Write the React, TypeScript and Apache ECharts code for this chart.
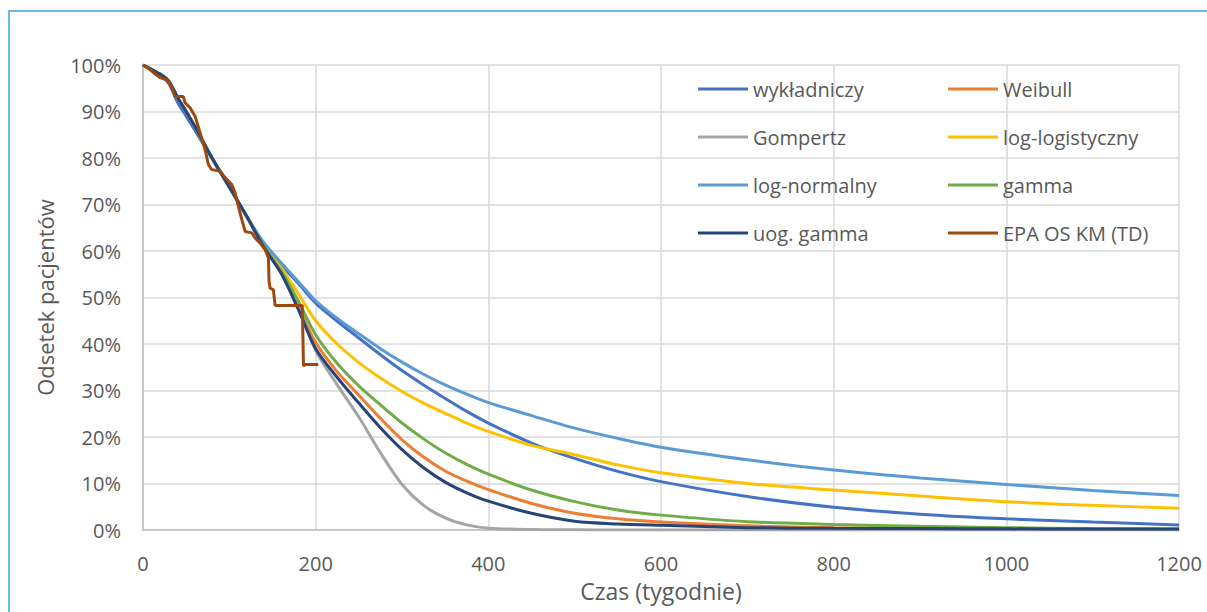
import React, { useEffect, useRef } from "react";
import * as echarts from "echarts";

// time grid (weeks) for the fitted curves
const weeks = [0, 10, 20, 30, 40, 50, 60, 80, 100, 120, 140, 160, 180, 200, 225, 250, 275, 300, 325, 350, 375, 400, 450, 500, 550, 600, 700, 800, 900, 1000, 1100, 1200];

const wykladniczy = [100, 99, 97.8, 96, 92, 89, 86, 79.8, 73.6, 67.4, 61.2, 57, 53, 48.8, 44.9, 41.3, 37.7, 34.3, 31.2, 28.3, 25.5, 23, 18.7, 15.4, 12.6, 10.4, 7.2, 4.9, 3.4, 2.4, 1.7, 1.1];
const weibull = [100, 99, 98, 96.5, 93, 90, 86.8, 80, 73.8, 67.5, 61, 55.5, 48.1, 40.3, 34, 29, 24, 19.4, 15.7, 12.7, 10.5, 8.7, 5.7, 3.6, 2.4, 1.7, 0.9, 0.5, 0.3, 0.2, 0.1, 0.1];
const gompertz = [100, 99, 98, 96.5, 93, 90, 86.8, 80, 73.8, 67.5, 61, 55.4, 47.8, 38.6, 31.2, 24.3, 16.6, 9.8, 5.3, 2.6, 1.1, 0.4, 0.1, 0.05, 0, 0, 0, 0, 0, 0, 0, 0];
const logLogistyczny = [100, 99, 98, 96.5, 93, 90, 86.8, 80, 73.8, 67.5, 61, 56.4, 50.8, 45, 40, 36, 32.7, 29.8, 27.3, 25.1, 23, 21.2, 18.2, 16.2, 14, 12.3, 10, 8.6, 7.3, 6.1, 5.3, 4.7];
const logNormalny = [100, 99, 98, 96.5, 93, 90, 86.8, 80, 73.8, 67.5, 61.8, 57.5, 53.4, 49.3, 45.5, 42.2, 39, 36.1, 33.5, 31.2, 29.2, 27.4, 24.6, 21.9, 19.7, 17.8, 15.1, 12.9, 11.2, 9.8, 8.5, 7.4];
const gamma = [100, 99, 98, 96.5, 93, 90, 86.8, 80, 73.8, 67.5, 61, 55.8, 49.2, 42, 35.8, 31, 26.9, 23, 19.6, 16.6, 14.1, 12, 8.6, 6.1, 4.3, 3.2, 1.8, 1.2, 0.8, 0.5, 0.3, 0.2];
const uogGamma = [100, 99, 98, 96.5, 93, 90, 86.8, 80, 73.8, 67.5, 60.8, 55.2, 47.4, 39, 32.8, 27.3, 22, 17.3, 13.4, 10.3, 8, 6.2, 3.6, 1.9, 1.3, 1.0, 0.5, 0.35, 0.3, 0.25, 0.2, 0.2];

// Kaplan-Meier (EPA OS KM (TD))
const kmWeeks = [0, 5, 12, 19.7, 27.5, 31.3, 35, 37, 46.7, 48.7, 54.5, 60.3, 66, 71.9, 75.7, 79.6, 89.3, 95, 102.8, 106.7, 110.5, 114.4, 118.3, 126, 129.9, 135.7, 141.4, 145.3, 146, 147.2, 151, 153, 184.5, 185.9, 188, 203];
const kmSurv = [100, 99.5, 98.4, 97.3, 96.8, 95.8, 94.4, 93.2, 93.2, 91.9, 90.8, 89, 85.5, 81.8, 78.6, 77.5, 77.2, 75.8, 74.3, 72.5, 69.6, 66.8, 64.2, 63.9, 62.8, 61.7, 60.3, 58.5, 53.5, 52, 51.7, 48.3, 48.3, 35.3, 35.6, 35.6];

const xTicks = [0, 200, 400, 600, 800, 1000, 1200];

const seriesNames = ["wykładniczy", "Weibull", "Gompertz", "log-logistyczny", "log-normalny", "gamma", "uog. gamma", "EPA OS KM (TD)"];
const seriesColors = ["#4472C4", "#ED7D31", "#A5A5A5", "#FFC000", "#5B9BD5", "#70AD47", "#264478", "#9E480E"];
const modelValues = [wykladniczy, weibull, gompertz, logLogistyczny, logNormalny, gamma, uogGamma];

const FONT = "'Open Sans', sans-serif";
const TXT = "#595959";

export default function App() {
  const ref = useRef<HTMLDivElement>(null);
  useEffect(() => {
    if (!ref.current) return;
    const chart = echarts.init(ref.current, null, { renderer: "svg" });
    const series: any[] = modelValues.map((vals, i) => ({
      name: seriesNames[i],
      type: "line",
      data: weeks.map((w, j) => [w, vals[j]]),
      showSymbol: false,
      smooth: 0.3,
      color: seriesColors[i],
      lineStyle: { width: 3, color: seriesColors[i] },
      z: 2 + i,
    }));
    series.push({
      name: seriesNames[7],
      type: "line",
      data: kmWeeks.map((w, j) => [w, kmSurv[j]]),
      showSymbol: false,
      color: seriesColors[7],
      lineStyle: { width: 3, color: seriesColors[7] },
      z: 20,
    });
    const legendCommon = {
      orient: "vertical",
      icon: "rect",
      itemWidth: 50,
      itemHeight: 3,
      itemGap: 24,
      textStyle: { fontFamily: FONT, fontSize: 20, color: TXT, lineHeight: 24, padding: [0, 0, 0, 0] },
    };
    chart.setOption({
      animation: false,
      backgroundColor: "#ffffff",
      grid: { left: 143, right: 28, top: 65, bottom: 82, containLabel: false },
      legend: [
        { ...legendCommon, left: 693, top: 72, data: [seriesNames[0], seriesNames[2], seriesNames[4], seriesNames[6]] },
        { ...legendCommon, left: 943, top: 72, data: [seriesNames[1], seriesNames[3], seriesNames[5], seriesNames[7]] },
      ],
      xAxis: {
        type: "value",
        min: xTicks[0],
        max: xTicks[xTicks.length - 1],
        interval: 200,
        name: "Czas (tygodnie)",
        nameLocation: "middle",
        nameGap: 49,
        nameTextStyle: { fontFamily: FONT, fontSize: 23, color: TXT },
        axisLine: { show: true, lineStyle: { color: "#BFBFBF", width: 1.5 } },
        axisTick: { show: false },
        axisLabel: { fontFamily: FONT, fontSize: 20, color: TXT, margin: 23, formatter: (v: number) => String(v) },
        splitLine: { show: true, lineStyle: { color: "#D9D9D9", width: 1.5 } },
      },
      yAxis: {
        type: "value",
        min: 0,
        max: 100,
        interval: 10,
        name: "Odsetek pacjentów",
        nameLocation: "middle",
        nameGap: 87,
        nameTextStyle: { fontFamily: FONT, fontSize: 22, color: TXT },
        axisLine: { show: true, lineStyle: { color: "#BFBFBF", width: 1.5 } },
        axisTick: { show: false },
        axisLabel: { fontFamily: FONT, fontSize: 20, color: TXT, margin: 22, formatter: "{value}%" },
        splitLine: { show: true, lineStyle: { color: "#D9D9D9", width: 1.5 } },
      },
      graphic: [
        {
          type: "rect",
          shape: { x: 9, y: 11, width: 1220, height: 640 },
          style: { fill: "none", stroke: "#3FA4DE", lineWidth: 1.5 },
          silent: true,
          z: 100,
        },
      ],
      series,
    });
    return () => chart.dispose();
  }, []);
  return <div ref={ref} style={{ position: "absolute", left: 0, top: 0, width: 1207, height: 612 }} />;
}
